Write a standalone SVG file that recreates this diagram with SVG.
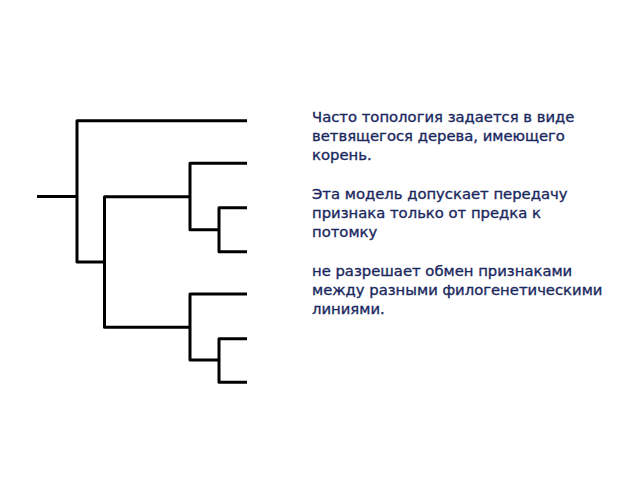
<svg xmlns="http://www.w3.org/2000/svg" width="640" height="480" viewBox="0 0 640 480">
<style>
.e{fill:none;stroke:#000;stroke-width:3;stroke-linejoin:round;stroke-linecap:butt}
.t{font-family:"DejaVu Sans","Noto Sans",sans-serif;font-size:14.8px;fill:#1a2860;stroke:#1a2860;stroke-width:0.35}
</style>
<rect width="640" height="480" fill="#fff"/>
<g id="connectors">
<path class="e" d="M37 196.5H77M247 120.7H77V262H104.5M247 163.3H190V229.7H219M247 207.7H219V251.7H247M190 196.7H104.5V327.3H190M247 294H190V360H219M247 338.7H219V382.3H247"/>
</g>
<g id="text" class="t">
<text x="312" y="121.7">Часто топология задается в виде</text>
<text x="312" y="141">ветвящегося дерева, имеющего</text>
<text x="312" y="160.3">корень.</text>
<text x="312" y="198.7">Эта модель допускает передачу</text>
<text x="312" y="217.9">признака только от предка к</text>
<text x="312" y="237.1">потомку</text>
<text x="312" y="275.5">не разрешает обмен признаками</text>
<text x="312" y="294.7">между разными филогенетическими</text>
<text x="312" y="313.9">линиями.</text>
</g>
</svg>
